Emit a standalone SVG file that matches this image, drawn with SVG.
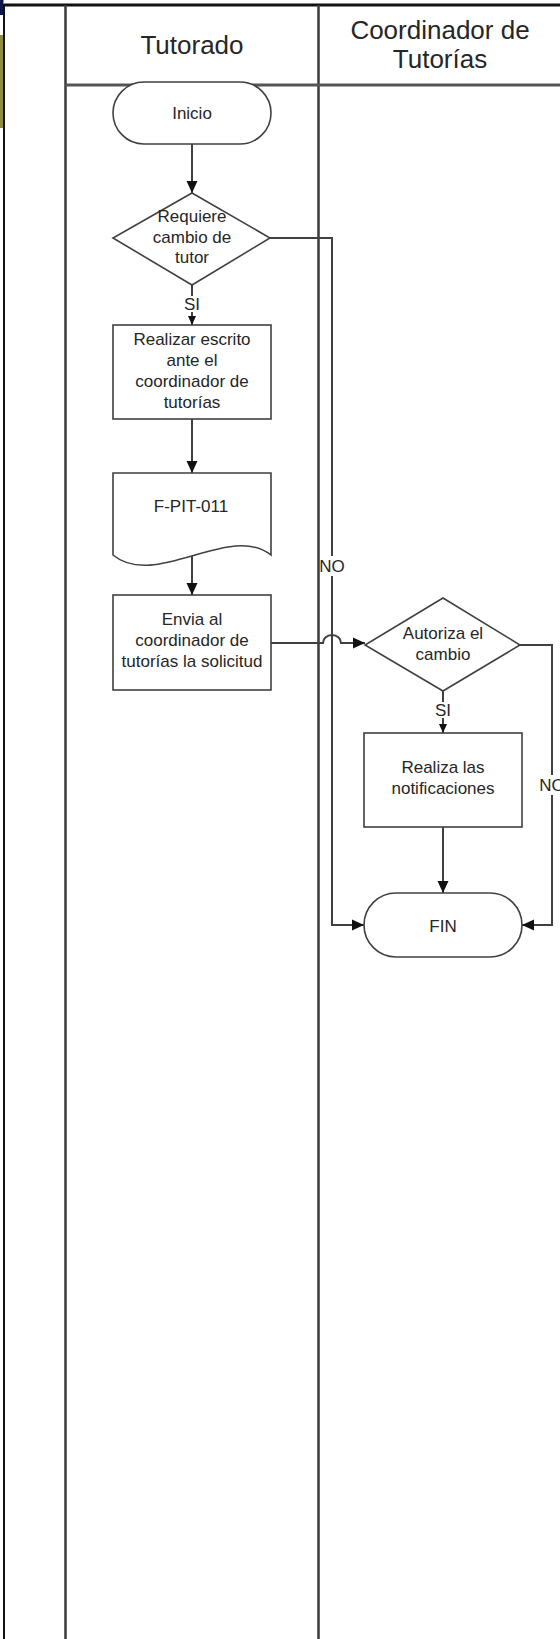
<svg xmlns="http://www.w3.org/2000/svg" width="560" height="1639" viewBox="0 0 560 1639">
<style>
.lane{stroke:#3a3a3a;stroke-width:2.5;fill:none}
.shape{fill:#fff;stroke:#404040;stroke-width:1.6}
.conn{fill:none;stroke:#404040;stroke-width:2}
.t{font-family:"Liberation Sans",Arial,sans-serif;font-size:17px;fill:#262626;text-anchor:middle}
.h{font-family:"Liberation Sans",Arial,sans-serif;font-size:26px;fill:#262626;text-anchor:middle}
.lbl{fill:#fff}
</style>
<defs>
<marker id="arr" markerUnits="userSpaceOnUse" markerWidth="12" markerHeight="12" viewBox="0 0 12 12" refX="12" refY="6" orient="auto">
<path d="M0,0.5 L12,6 L0,11.5 Z" fill="#111"/>
</marker>
<marker id="arrs" markerUnits="userSpaceOnUse" markerWidth="9" markerHeight="9" viewBox="0 0 9 9" refX="9" refY="4.5" orient="auto">
<path d="M0,0.5 L9,4.5 L0,8.5 Z" fill="#111"/>
</marker>
</defs>
<rect width="560" height="1639" fill="#fff"/>
<g id="frame">
<rect x="0" y="0" width="3.5" height="15" fill="#0c1a4a"/>
<rect x="0" y="35" width="3.5" height="93" fill="#8e8b42"/>
<line x1="4" y1="5" x2="560" y2="5" stroke="#111" stroke-width="3"/>
<line x1="4" y1="4" x2="4" y2="1639" stroke="#111" stroke-width="2"/>
<line class="lane" x1="65.5" y1="5" x2="65.5" y2="1639"/>
<line class="lane" x1="318.5" y1="5" x2="318.5" y2="1639"/>
<line x1="65.5" y1="85" x2="560" y2="85" stroke="#555" stroke-width="3"/>
<text class="h" x="192" y="54">Tutorado</text>
<text class="h" x="440" y="39">Coordinador de</text>
<text class="h" x="440" y="68">Tutorías</text>
</g>
<g id="connectors">
<line class="conn" x1="192" y1="144" x2="192" y2="193" marker-end="url(#arr)"/>
<line class="conn" x1="192" y1="285" x2="192" y2="325" marker-end="url(#arrs)"/>
<rect class="lbl" x="183" y="296" width="18" height="16"/>
<text class="t" x="192" y="310">SI</text>
<line class="conn" x1="192" y1="419" x2="192" y2="473" marker-end="url(#arr)"/>
<line class="conn" x1="192" y1="556" x2="192" y2="595" marker-end="url(#arr)"/>
<path class="conn" d="M271,643 H323 A9,8 0 0 1 341,643 H365" marker-end="url(#arr)"/>
<path class="conn" d="M270,238 H332 V925 H364" marker-end="url(#arr)"/>
<rect class="lbl" x="320" y="556" width="25" height="20"/>
<text class="t" x="332" y="572">NO</text>
<line class="conn" x1="443" y1="691" x2="443" y2="733" marker-end="url(#arrs)"/>
<rect class="lbl" x="434" y="702" width="18" height="16"/>
<text class="t" x="443" y="716">SI</text>
<line class="conn" x1="443" y1="827" x2="443" y2="893" marker-end="url(#arr)"/>
<path class="conn" d="M520,645 H552 V925 H522" marker-end="url(#arr)"/>
<rect class="lbl" x="539" y="775" width="26" height="20"/>
<text class="t" x="552" y="791">NO</text>
</g>
<g id="inicio">
<rect class="shape" x="113" y="82" width="158" height="62" rx="31"/>
<text class="t" x="192" y="119">Inicio</text>
</g>
<g id="requiere">
<polygon class="shape" points="192,193 270,238 192,285 113,238"/>
<text class="t" x="192" y="222">Requiere</text>
<text class="t" x="192" y="243">cambio de</text>
<text class="t" x="192" y="263">tutor</text>
</g>
<g id="realizar">
<rect class="shape" x="113" y="325" width="158" height="94"/>
<text class="t" x="192" y="345">Realizar escrito</text>
<text class="t" x="192" y="366">ante el</text>
<text class="t" x="192" y="387">coordinador de</text>
<text class="t" x="192" y="408">tutorías</text>
</g>
<g id="documento">
<path class="shape" d="M113,473 H271 V555 C230,522 155,590 113,555 Z"/>
<text class="t" x="191" y="512">F-PIT-011</text>
</g>
<g id="envia">
<rect class="shape" x="113" y="595" width="158" height="95"/>
<text class="t" x="192" y="625">Envia al</text>
<text class="t" x="192" y="646">coordinador de</text>
<text class="t" x="192" y="667">tutorías la solicitud</text>
</g>
<g id="autoriza">
<polygon class="shape" points="443,598 520,645 443,691 365,645"/>
<text class="t" x="443" y="639">Autoriza el</text>
<text class="t" x="443" y="660">cambio</text>
</g>
<g id="realiza">
<rect class="shape" x="364" y="733" width="158" height="94"/>
<text class="t" x="443" y="773">Realiza las</text>
<text class="t" x="443" y="794">notificaciones</text>
</g>
<g id="fin">
<rect class="shape" x="364" y="893" width="158" height="64" rx="32"/>
<text class="t" x="443" y="932">FIN</text>
</g>
</svg>
